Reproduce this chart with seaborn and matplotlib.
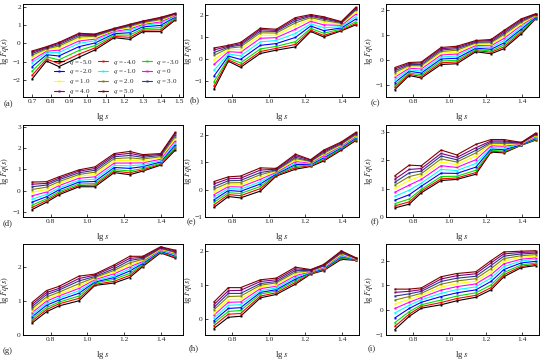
import numpy as np
import pandas as pd
import matplotlib
matplotlib.use("Agg")
import matplotlib.pyplot as plt
import seaborn as sns

# ---------------- data ----------------
lg_s = [0.699, 0.778, 0.845, 0.954, 1.041, 1.146, 1.230, 1.301, 1.398, 1.477]
q_values = [-5, -4, -3, -2, -1, 0, 1, 2, 3, 4, 5]
q_labels = ["-5.0", "-4.0", "-3.0", "-2.0", "-1.0", "0", "1.0", "2.0", "3.0", "4.0", "5.0"]
panel_names = ["(a)", "(b)", "(c)", "(d)", "(e)", "(f)", "(g)", "(h)", "(i)"]

panel_a = [
    [-1.95, -0.96, -1.27, -0.76, -0.36, 0.31, 0.22, 0.64, 0.64, 1.27],
    [-1.75, -0.86, -1.10, -0.59, -0.25, 0.38, 0.33, 0.72, 0.74, 1.32],
    [-1.52, -0.74, -0.90, -0.39, -0.12, 0.45, 0.45, 0.80, 0.86, 1.37],
    [-1.28, -0.62, -0.69, -0.18, 0.02, 0.53, 0.58, 0.90, 0.98, 1.43],
    [-1.06, -0.51, -0.50, 0.00, 0.14, 0.61, 0.70, 0.98, 1.09, 1.48],
    [-0.91, -0.43, -0.37, 0.13, 0.23, 0.66, 0.78, 1.03, 1.17, 1.52],
    [-0.76, -0.35, -0.24, 0.26, 0.32, 0.71, 0.86, 1.09, 1.25, 1.56],
    [-0.65, -0.30, -0.15, 0.35, 0.38, 0.74, 0.92, 1.13, 1.30, 1.58],
    [-0.56, -0.25, -0.07, 0.43, 0.43, 0.77, 0.97, 1.17, 1.35, 1.61],
    [-0.48, -0.21, 0.00, 0.50, 0.48, 0.80, 1.01, 1.20, 1.39, 1.63],
    [-0.42, -0.18, 0.05, 0.55, 0.51, 0.82, 1.04, 1.22, 1.42, 1.64],
]
panel_b = [
    [-1.38, -0.10, -0.38, 0.25, 0.40, 0.55, 1.25, 1.00, 1.28, 1.55],
    [-1.23, -0.04, -0.29, 0.34, 0.48, 0.66, 1.31, 1.07, 1.31, 1.61],
    [-1.04, 0.03, -0.18, 0.46, 0.57, 0.79, 1.39, 1.17, 1.36, 1.69],
    [-0.78, 0.13, -0.02, 0.62, 0.70, 0.98, 1.50, 1.29, 1.41, 1.81],
    [-0.52, 0.23, 0.14, 0.78, 0.84, 1.16, 1.60, 1.42, 1.47, 1.92],
    [-0.25, 0.33, 0.30, 0.94, 0.97, 1.35, 1.71, 1.55, 1.53, 2.03],
    [-0.03, 0.42, 0.43, 1.08, 1.08, 1.51, 1.80, 1.66, 1.58, 2.13],
    [0.16, 0.49, 0.55, 1.19, 1.18, 1.64, 1.88, 1.75, 1.62, 2.21],
    [0.29, 0.54, 0.63, 1.27, 1.25, 1.73, 1.94, 1.82, 1.65, 2.26],
    [0.41, 0.58, 0.69, 1.34, 1.30, 1.81, 1.98, 1.87, 1.68, 2.31],
    [0.50, 0.62, 0.75, 1.40, 1.35, 1.88, 2.02, 1.92, 1.70, 2.35],
]
panel_c = [
    [-1.18, -0.62, -0.72, -0.18, -0.15, 0.33, 0.25, 0.45, 1.05, 1.65],
    [-1.09, -0.57, -0.66, -0.11, -0.08, 0.38, 0.31, 0.52, 1.11, 1.67],
    [-1.00, -0.52, -0.59, -0.04, -0.01, 0.42, 0.36, 0.60, 1.17, 1.69],
    [-0.90, -0.45, -0.52, 0.04, 0.07, 0.47, 0.43, 0.68, 1.24, 1.71],
    [-0.79, -0.39, -0.44, 0.12, 0.16, 0.53, 0.50, 0.77, 1.31, 1.74],
    [-0.69, -0.33, -0.36, 0.20, 0.24, 0.58, 0.57, 0.86, 1.39, 1.76],
    [-0.59, -0.27, -0.29, 0.28, 0.32, 0.63, 0.63, 0.94, 1.45, 1.78],
    [-0.50, -0.22, -0.23, 0.34, 0.39, 0.68, 0.69, 1.01, 1.51, 1.80],
    [-0.43, -0.18, -0.18, 0.40, 0.45, 0.71, 0.73, 1.07, 1.56, 1.82],
    [-0.36, -0.14, -0.12, 0.45, 0.50, 0.75, 0.78, 1.13, 1.61, 1.84],
    [-0.30, -0.10, -0.08, 0.50, 0.55, 0.78, 0.82, 1.18, 1.65, 1.85],
]
panel_d = [
    [-0.90, -0.55, -0.20, 0.18, 0.18, 0.85, 0.75, 0.92, 1.20, 1.90],
    [-0.80, -0.47, -0.13, 0.24, 0.26, 0.92, 0.84, 0.98, 1.24, 1.99],
    [-0.69, -0.39, -0.06, 0.31, 0.33, 0.99, 0.93, 1.04, 1.29, 2.06],
    [-0.55, -0.29, 0.03, 0.40, 0.43, 1.09, 1.05, 1.13, 1.35, 2.15],
    [-0.41, -0.18, 0.12, 0.48, 0.54, 1.19, 1.17, 1.22, 1.41, 2.24],
    [-0.25, -0.07, 0.23, 0.58, 0.65, 1.30, 1.30, 1.31, 1.48, 2.35],
    [-0.09, 0.05, 0.33, 0.68, 0.76, 1.41, 1.43, 1.40, 1.54, 2.45],
    [0.05, 0.16, 0.42, 0.76, 0.87, 1.51, 1.55, 1.49, 1.60, 2.54],
    [0.18, 0.26, 0.51, 0.84, 0.96, 1.60, 1.66, 1.57, 1.66, 2.63],
    [0.30, 0.34, 0.58, 0.92, 1.04, 1.68, 1.76, 1.64, 1.71, 2.70],
    [0.40, 0.42, 0.65, 0.98, 1.12, 1.75, 1.85, 1.70, 1.75, 2.75],
]
panel_e = [
    [-0.65, -0.25, -0.30, -0.05, 0.50, 0.75, 0.85, 1.05, 1.45, 1.80],
    [-0.56, -0.18, -0.22, 0.04, 0.53, 0.81, 0.88, 1.09, 1.48, 1.83],
    [-0.46, -0.11, -0.14, 0.12, 0.56, 0.86, 0.90, 1.13, 1.51, 1.86],
    [-0.37, -0.03, -0.06, 0.21, 0.58, 0.92, 0.93, 1.17, 1.54, 1.89],
    [-0.27, 0.04, 0.02, 0.29, 0.61, 0.97, 0.95, 1.21, 1.57, 1.92],
    [-0.18, 0.11, 0.10, 0.38, 0.64, 1.03, 0.98, 1.25, 1.60, 1.95],
    [-0.08, 0.18, 0.18, 0.46, 0.67, 1.08, 1.00, 1.29, 1.63, 1.98],
    [0.02, 0.25, 0.26, 0.55, 0.70, 1.14, 1.03, 1.33, 1.66, 2.01],
    [0.11, 0.33, 0.34, 0.63, 0.72, 1.19, 1.05, 1.37, 1.69, 2.04],
    [0.21, 0.40, 0.42, 0.72, 0.75, 1.25, 1.08, 1.41, 1.72, 2.07],
    [0.30, 0.47, 0.50, 0.80, 0.78, 1.30, 1.10, 1.45, 1.75, 2.10],
]
panel_f = [
    [0.32, 0.45, 0.85, 1.28, 1.32, 1.50, 2.28, 2.25, 2.52, 2.70],
    [0.39, 0.53, 0.91, 1.34, 1.37, 1.56, 2.31, 2.28, 2.53, 2.72],
    [0.47, 0.63, 0.97, 1.42, 1.43, 1.64, 2.34, 2.31, 2.53, 2.73],
    [0.59, 0.78, 1.08, 1.54, 1.53, 1.75, 2.39, 2.36, 2.54, 2.76],
    [0.73, 0.94, 1.19, 1.67, 1.63, 1.88, 2.44, 2.42, 2.56, 2.79],
    [0.87, 1.12, 1.32, 1.80, 1.74, 2.01, 2.50, 2.48, 2.57, 2.82],
    [1.01, 1.29, 1.43, 1.93, 1.84, 2.14, 2.55, 2.54, 2.58, 2.85],
    [1.12, 1.42, 1.52, 2.04, 1.93, 2.25, 2.59, 2.58, 2.59, 2.88],
    [1.22, 1.55, 1.61, 2.14, 2.01, 2.34, 2.63, 2.63, 2.60, 2.90],
    [1.33, 1.67, 1.70, 2.23, 2.09, 2.43, 2.67, 2.67, 2.61, 2.92],
    [1.45, 1.82, 1.80, 2.35, 2.18, 2.55, 2.72, 2.72, 2.62, 2.95],
]
panel_g = [
    [0.35, 0.68, 0.85, 1.00, 1.45, 1.52, 1.68, 2.00, 2.40, 2.25],
    [0.41, 0.74, 0.91, 1.07, 1.48, 1.57, 1.74, 2.03, 2.42, 2.27],
    [0.47, 0.80, 0.96, 1.14, 1.52, 1.63, 1.80, 2.06, 2.44, 2.30],
    [0.53, 0.87, 1.02, 1.22, 1.55, 1.68, 1.87, 2.09, 2.45, 2.32],
    [0.59, 0.93, 1.08, 1.29, 1.58, 1.73, 1.93, 2.12, 2.47, 2.34],
    [0.65, 0.99, 1.14, 1.36, 1.62, 1.79, 1.99, 2.15, 2.49, 2.37],
    [0.71, 1.05, 1.19, 1.43, 1.65, 1.84, 2.05, 2.18, 2.51, 2.39],
    [0.77, 1.11, 1.25, 1.50, 1.68, 1.89, 2.11, 2.21, 2.53, 2.41],
    [0.83, 1.18, 1.31, 1.58, 1.71, 1.94, 2.18, 2.24, 2.54, 2.43],
    [0.89, 1.24, 1.36, 1.65, 1.75, 2.00, 2.24, 2.27, 2.56, 2.46],
    [0.95, 1.30, 1.42, 1.72, 1.78, 2.05, 2.30, 2.30, 2.58, 2.48],
]
panel_h = [
    [-0.28, 0.05, 0.08, 0.62, 0.72, 1.02, 1.32, 1.42, 1.75, 1.72],
    [-0.20, 0.14, 0.16, 0.67, 0.77, 1.07, 1.33, 1.44, 1.78, 1.73],
    [-0.12, 0.22, 0.25, 0.73, 0.82, 1.12, 1.35, 1.46, 1.80, 1.74],
    [-0.05, 0.31, 0.33, 0.78, 0.86, 1.17, 1.36, 1.47, 1.83, 1.74],
    [0.03, 0.40, 0.42, 0.83, 0.91, 1.22, 1.37, 1.49, 1.85, 1.75],
    [0.11, 0.49, 0.50, 0.89, 0.96, 1.27, 1.39, 1.51, 1.88, 1.76],
    [0.19, 0.57, 0.58, 0.94, 1.01, 1.32, 1.40, 1.53, 1.90, 1.77],
    [0.27, 0.66, 0.67, 0.99, 1.06, 1.37, 1.41, 1.55, 1.93, 1.78],
    [0.34, 0.75, 0.75, 1.04, 1.10, 1.42, 1.42, 1.56, 1.95, 1.78],
    [0.42, 0.83, 0.84, 1.10, 1.15, 1.47, 1.44, 1.58, 1.98, 1.79],
    [0.50, 0.92, 0.92, 1.15, 1.20, 1.52, 1.45, 1.60, 2.00, 1.80],
]
panel_i = [
    [-0.78, -0.25, 0.08, 0.22, 0.38, 0.52, 0.82, 1.35, 1.72, 1.80],
    [-0.65, -0.16, 0.15, 0.31, 0.47, 0.60, 0.91, 1.43, 1.77, 1.85],
    [-0.50, -0.06, 0.22, 0.41, 0.57, 0.70, 1.02, 1.52, 1.83, 1.90],
    [-0.31, 0.07, 0.32, 0.55, 0.70, 0.82, 1.16, 1.64, 1.91, 1.97],
    [-0.11, 0.20, 0.42, 0.68, 0.83, 0.94, 1.30, 1.76, 1.99, 2.05],
    [0.07, 0.32, 0.51, 0.81, 0.95, 1.06, 1.43, 1.87, 2.06, 2.11],
    [0.25, 0.44, 0.60, 0.93, 1.07, 1.17, 1.56, 1.98, 2.14, 2.18],
    [0.41, 0.55, 0.68, 1.05, 1.18, 1.27, 1.68, 2.08, 2.20, 2.24],
    [0.57, 0.66, 0.76, 1.16, 1.29, 1.37, 1.80, 2.18, 2.27, 2.30],
    [0.72, 0.76, 0.83, 1.26, 1.39, 1.47, 1.91, 2.27, 2.33, 2.35],
    [0.85, 0.85, 0.90, 1.35, 1.48, 1.55, 2.00, 2.35, 2.38, 2.40],
]
panels = [panel_a, panel_b, panel_c, panel_d, panel_e, panel_f, panel_g, panel_h, panel_i]

# ---------------- style ----------------
sns.set_style("ticks")
plt.rcParams["font.family"] = ["Liberation Serif", "DejaVu Serif"]
plt.rcParams["mathtext.fontset"] = "stix"
plt.rcParams["axes.linewidth"] = 0.7
plt.rcParams["xtick.direction"] = "in"
plt.rcParams["ytick.direction"] = "in"

colors = ["#000000", "#FF0000", "#00E000", "#0000FF", "#00FFFF", "#FF00FF",
          "#FFFF00", "#808000", "#2A3A8A", "#800080", "#800000"]

fig = plt.figure(figsize=(5.5, 3.63), dpi=100)
W, H = 550.0, 363.0
col_left = [23, 205, 386]
col_width = [160, 154, 153]
row_top = [4, 125, 244]
row_bot = [97, 217, 335]

ylims = [(-2.93, 2.15), (-1.73, 2.5), (-1.48, 2.24),
         (-1.25, 3.1), (-1.0, 2.37), (0.0, 3.23),
         (0.0, 2.66), (-0.47, 2.2), (-1.0, 2.67)]
yticks = [[-2, -1, 0, 1, 2], [-1, 0, 1, 2], [-1, 0, 1, 2],
          [-1, 0, 1, 2, 3], [-1, 0, 1, 2], [0, 1, 2, 3],
          [0, 1, 2], [0, 1, 2], [-1, 0, 1, 2]]
label_pos = [(-0.094, -0.075), (-0.065, -0.035), (-0.072, -0.065),
             (-0.094, -0.067), (-0.09, -0.055), (-0.072, -0.055),
             (-0.094, -0.176), (-0.071, -0.143), (-0.092, -0.143)]
ylabel_x = [-0.072, -0.07, -0.07]

for k, vals in enumerate(panels):
    r, c = divmod(k, 3)
    ax = fig.add_axes([col_left[c] / W, 1 - row_bot[r] / H,
                       col_width[c] / W, (row_bot[r] - row_top[r]) / H])
    rows = []
    for qi, q in enumerate(q_values):
        for xi, x in enumerate(lg_s):
            rows.append({"lg_s": x, "F": vals[qi][xi], "q": q})
    df = pd.DataFrame(rows)
    sns.lineplot(data=df, x="lg_s", y="F", hue="q", palette=colors,
                 hue_order=q_values, ax=ax, legend=False, linewidth=0.8,
                 marker="s", markersize=1.4, markeredgewidth=0, sort=False)
    if c == 0:
        ax.set_xlim(0.65, 1.52)
    else:
        ax.set_xlim(0.65, 1.495)
    if k == 0:
        ax.set_xticks([0.7, 0.8, 0.9, 1.0, 1.1, 1.2, 1.3, 1.4, 1.5])
    else:
        ax.set_xticks([0.8, 1.0, 1.2, 1.4])
    ax.xaxis.set_major_formatter(matplotlib.ticker.FormatStrFormatter("%.1f"))
    ax.set_ylim(*ylims[k])
    ax.set_yticks(yticks[k])
    ax.set_yticklabels([("\u2212" + str(abs(t))) if t < 0 else str(t) for t in yticks[k]])
    ax.tick_params(axis="both", labelsize=5.4, length=2.2, width=0.6, pad=1.5)
    for sp in ax.spines.values():
        sp.set_visible(True)
        sp.set_color("black")
    ax.set_xlabel(r"lg $s$", fontsize=6.3)
    ax.set_ylabel(r"lg $Fq(s)$", fontsize=6.0)
    ax.xaxis.set_label_coords(0.5, -0.155)
    ax.yaxis.set_label_coords(ylabel_x[c], 0.5)
    ax.text(label_pos[k][0], label_pos[k][1], panel_names[k], transform=ax.transAxes,
            ha="center", va="center", fontsize=6.2)

    if k == 0:
        lines = ax.get_lines()[:11]
        order = [0, 3, 6, 9, 1, 4, 7, 10, 2, 5, 8]
        handles = [lines[i] for i in order]
        labels = [r"$q$ = " + q_labels[i] for i in order]
        ax.legend(handles, labels, ncol=3, loc="lower right", bbox_to_anchor=(1.0, -0.02),
                  frameon=False, fontsize=5, handlelength=1.5, handletextpad=0.6,
                  columnspacing=0.8, labelspacing=0.12, borderaxespad=0.2,
                  borderpad=0.2)

fig.savefig("out.png", dpi=100)
